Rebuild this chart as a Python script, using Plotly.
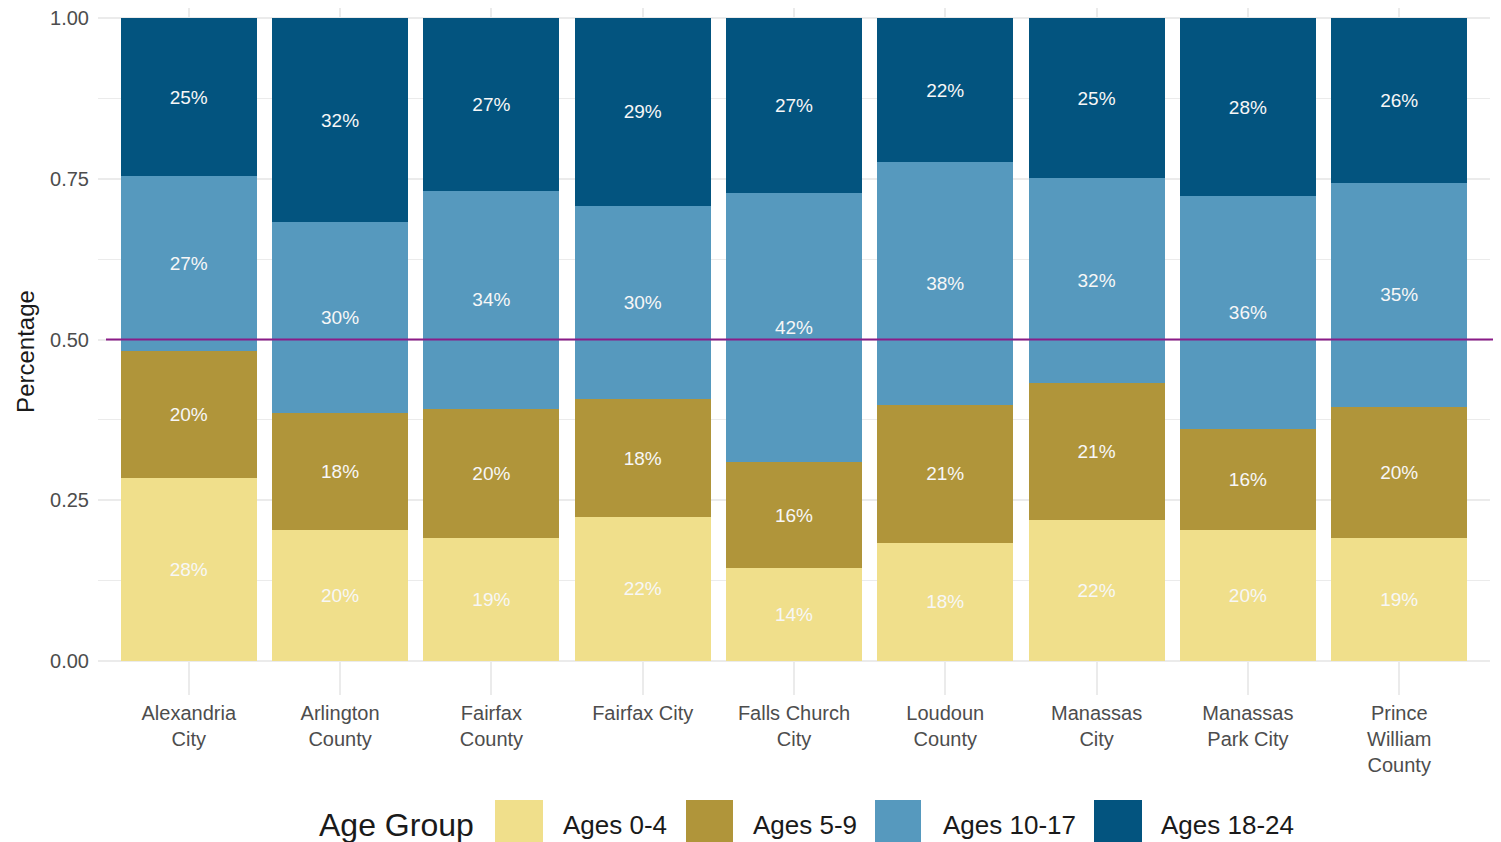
import plotly.graph_objects as go

# data
counties = ["Alexandria<br>City", "Arlington<br>County", "Fairfax<br>County", "Fairfax City",
            "Falls Church<br>City", "Loudoun<br>County", "Manassas<br>City",
            "Manassas<br>Park City", "Prince<br>William<br>County"]
age_groups = ["Ages 0-4", "Ages 5-9", "Ages 10-17", "Ages 18-24"]
ages_0_4 = [0.285, 0.203, 0.191, 0.224, 0.144, 0.184, 0.219, 0.204, 0.191]
ages_5_9 = [0.197, 0.183, 0.201, 0.183, 0.165, 0.214, 0.213, 0.157, 0.204]
ages_10_17 = [0.272, 0.296, 0.339, 0.301, 0.419, 0.378, 0.319, 0.362, 0.349]
ages_18_24 = [0.246, 0.318, 0.269, 0.292, 0.272, 0.224, 0.249, 0.277, 0.256]
colors = ["#F0DF8B", "#B0953A", "#5699BE", "#03547F"]

series = [ages_0_4, ages_5_9, ages_10_17, ages_18_24]
FONT = "Liberation Sans, Arial, Helvetica, sans-serif"

# the page body adds an 8px margin, so the figure is drawn 8px smaller
OFF = 8
W, H = 1501 - OFF, 842 - OFF

fig = go.Figure()
for name, vals, col in zip(age_groups, series, colors):
    fig.add_trace(go.Bar(
        x=counties, y=vals, name=name,
        marker=dict(color=col, line=dict(width=0)),
        text=[f"{round(v*100)}%" for v in vals],
        textposition="inside", insidetextanchor="middle", textangle=0,
        textfont=dict(color="#F7F7F7", size=19, family=FONT),
        showlegend=False,
    ))

# plot area in screen pixels (for the hand-made legend)
L, R, T, B = 98, 1490, 8, 695
def px(x):
    return (x - L) / (R - L)
def py(y):
    return (B - y) / (B - T)

fig.add_shape(type="line", xref="paper", yref="y", x0=px(106), x1=px(1500), y0=0.5, y1=0.5,
              line=dict(color="#8A1C88", width=2))

# legend
fig.add_annotation(text="Age Group", xref="paper", yref="paper", x=px(317), y=py(825),
                   xanchor="left", yanchor="middle", showarrow=False,
                   font=dict(size=32, color="#1a1a1a", family=FONT))
sw = [(495, 543), (686, 733), (875, 921), (1094, 1142)]
lab_x = [561, 751, 941, 1159]
for (a, b), lx, name, col in zip(sw, lab_x, age_groups, colors):
    fig.add_shape(type="rect", xref="paper", yref="paper", x0=px(a), x1=px(b),
                  y0=py(800), y1=py(860), fillcolor=col, line=dict(width=0))
    fig.add_annotation(text=name, xref="paper", yref="paper", x=px(lx), y=py(825),
                       xanchor="left", yanchor="middle", showarrow=False,
                       font=dict(size=26, color="#1a1a1a", family=FONT))

fig.update_layout(
    barmode="stack", bargap=0.1,
    width=W, height=H,
    margin=dict(l=L - OFF, r=W - (R - OFF), t=T - OFF, b=H - (B - OFF)),
    plot_bgcolor="white", paper_bgcolor="white",
    font=dict(family=FONT),
    xaxis=dict(range=[-0.6, 8.6], showgrid=True, gridcolor="#EBEBEB", gridwidth=1.5,
               tickfont=dict(size=20, color="#4D4D4D"), ticks="", zeroline=False,
               ticklabelstandoff=4),
    yaxis=dict(range=[-0.0529, 1.0156], tickvals=[0, 0.25, 0.5, 0.75, 1.0], tickformat=".2f",
               showgrid=True, gridcolor="#EBEBEB", gridwidth=1.5, zeroline=False,
               minor=dict(dtick=0.125, tick0=0, showgrid=True, gridcolor="#EBEBEB", gridwidth=1.2),
               tickfont=dict(size=20, color="#4D4D4D"), ticklabelstandoff=8,
               ticklabeloverflow="allow",
               title=dict(text="Percentage", font=dict(size=24, color="#1a1a1a"), standoff=8)),
)

fig.write_html("out.html")
